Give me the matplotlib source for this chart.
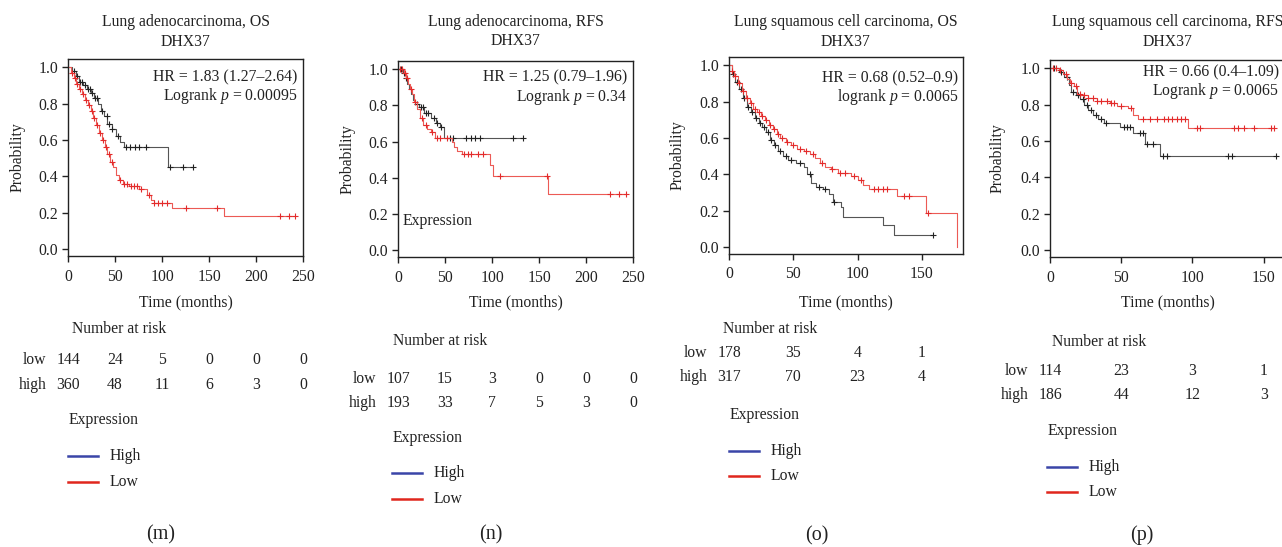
import numpy as np
import matplotlib
matplotlib.use("Agg")
import matplotlib.pyplot as plt
import matplotlib.transforms as mtransforms

plt.rcParams['font.family'] = ['Liberation Serif', 'DejaVu Serif']
plt.rcParams['mathtext.fontset'] = 'custom'
plt.rcParams['mathtext.rm'] = 'Liberation Serif'
plt.rcParams['mathtext.it'] = 'Liberation Serif:italic'

# ---- data ----
titles = ["Lung adenocarcinoma, OS", "Lung adenocarcinoma, RFS",
          "Lung squamous cell carcinoma, OS", "Lung squamous cell carcinoma, RFS"]
gene = "DHX37"
hr_text = ["HR = 1.83 (1.27–2.64)", "HR = 1.25 (0.79–1.96)",
           "HR = 0.68 (0.52–0.9)", "HR = 0.66 (0.4–1.09)"]
p_text = ["Logrank $p$ = 0.00095", "Logrank $p$ = 0.34",
          "logrank $p$ = 0.0065", "Logrank $p$ = 0.0065"]
panel_labels = ["(m)", "(n)", "(o)", "(p)"]

risk_times = [[0, 50, 100, 150, 200, 250], [0, 50, 100, 150, 200, 250],
              [0, 50, 100, 150], [0, 50, 100, 150]]
risk_low = [[144, 24, 5, 0, 0, 0], [107, 15, 3, 0, 0, 0], [178, 35, 4, 1], [114, 23, 3, 1]]
risk_high = [[360, 48, 11, 6, 3, 0], [193, 33, 7, 5, 3, 0], [317, 70, 23, 4], [186, 44, 12, 3]]

xlims = [250, 250, 182, 165]
xticks = [[0, 50, 100, 150, 200, 250], [0, 50, 100, 150, 200, 250],
          [0, 50, 100, 150], [0, 50, 100, 150]]

# panel m
m_low_t = [0, 4, 8, 12, 16, 20, 24, 28, 32, 35, 38, 42, 47, 51, 55, 60, 106, 133]
m_low_s = [1.0, 0.98, 0.95, 0.92, 0.90, 0.88, 0.86, 0.83, 0.80, 0.76, 0.73, 0.69, 0.66, 0.62, 0.59, 0.56, 0.45, 0.45]
m_low_c = [6, 10, 13, 15, 18, 21, 23, 26, 29, 31, 36, 41, 44, 47, 53, 62, 66, 71, 76, 83, 109, 122, 133]
m_high_t = [0, 3, 6, 9, 12, 15, 18, 21, 24, 27, 30, 33, 36, 39, 42, 45, 48, 51, 54, 58, 65, 75, 84, 88, 91, 111, 166, 242]
m_high_s = [1.0, 0.97, 0.94, 0.91, 0.88, 0.85, 0.82, 0.79, 0.76, 0.72, 0.68, 0.64, 0.60, 0.56, 0.52, 0.48, 0.45, 0.41,
            0.38, 0.36, 0.345, 0.33, 0.30, 0.27, 0.255, 0.225, 0.18, 0.18]
m_high_c = [4, 7, 10, 13, 16, 19, 22, 25, 28, 31, 34, 37, 40, 44, 47, 55, 60, 63, 67, 70, 73, 78, 86, 92, 96, 100,
            105, 125, 159, 225, 235, 242]

# panel n
n_low_t = [0, 5, 8, 10, 12, 14, 16, 18, 22, 28, 35, 40, 45, 49, 133]
n_low_s = [1.0, 0.98, 0.95, 0.92, 0.89, 0.86, 0.83, 0.81, 0.79, 0.76, 0.73, 0.70, 0.68, 0.62, 0.62]
n_low_c = [3, 6, 9, 20, 24, 27, 30, 32, 38, 42, 46, 55, 58, 72, 78, 82, 87, 122, 133]
n_high_t = [0, 6, 9, 11, 13, 15, 17, 20, 23, 27, 31, 35, 39, 57, 60, 63, 68, 98, 101, 160, 243]
n_high_s = [1.0, 0.98, 0.95, 0.92, 0.89, 0.86, 0.82, 0.78, 0.73, 0.69, 0.67, 0.65, 0.62, 0.60, 0.57, 0.55, 0.53,
            0.47, 0.41, 0.31, 0.31]
n_high_c = [2, 4, 7, 10, 14, 18, 25, 30, 36, 41, 45, 52, 70, 74, 78, 85, 90, 108, 158, 225, 235, 243]

# panel o
o_low_t = [0, 2, 5, 8, 11, 14, 17, 20, 23, 26, 29, 32, 35, 38, 42, 46, 52, 58, 61, 64, 68, 73, 78, 81, 87, 89,
           120, 128, 159]
o_low_s = [1.0, 0.95, 0.91, 0.87, 0.82, 0.77, 0.74, 0.71, 0.68, 0.66, 0.63, 0.59, 0.56, 0.53, 0.50, 0.48, 0.46,
           0.44, 0.40, 0.35, 0.33, 0.32, 0.29, 0.25, 0.22, 0.165, 0.12, 0.065, 0.065]
o_low_c = [3, 6, 9, 12, 15, 18, 21, 24, 27, 30, 33, 36, 40, 44, 48, 55, 63, 70, 75, 82, 159]
o_high_t = [0, 2, 4, 7, 10, 13, 16, 19, 22, 25, 28, 31, 34, 37, 40, 44, 48, 53, 58, 63, 67, 71, 75, 79, 85, 95,
            100, 104, 109, 131, 153, 177]
o_high_s = [1.0, 0.97, 0.94, 0.90, 0.86, 0.82, 0.79, 0.76, 0.74, 0.72, 0.70, 0.67, 0.65, 0.62, 0.60, 0.58, 0.56,
            0.54, 0.53, 0.51, 0.49, 0.46, 0.44, 0.43, 0.41, 0.39, 0.37, 0.34, 0.32, 0.28, 0.185, 0.0]
o_high_c = [2, 5, 8, 11, 14, 17, 20, 23, 26, 29, 32, 35, 38, 41, 45, 50, 55, 60, 65, 72, 80, 86, 90, 97, 103, 113,
            116, 120, 123, 136, 140, 155]

# panel p
p_low_t = [0, 6, 10, 13, 15, 18, 21, 24, 27, 30, 34, 38, 49, 58, 67, 77, 159]
p_low_s = [1.0, 0.98, 0.95, 0.91, 0.87, 0.85, 0.83, 0.80, 0.77, 0.745, 0.72, 0.70, 0.675, 0.645, 0.585, 0.515, 0.515]
p_low_c = [3, 8, 12, 16, 20, 23, 26, 29, 32, 36, 39, 52, 54, 56, 63, 65, 68, 72, 79, 82, 125, 128, 159]
p_high_t = [0, 6, 9, 12, 14, 17, 19, 22, 27, 33, 42, 47, 55, 58, 62, 97, 157]
p_high_s = [1.0, 0.99, 0.97, 0.94, 0.92, 0.90, 0.86, 0.85, 0.835, 0.82, 0.81, 0.79, 0.78, 0.745, 0.72, 0.67, 0.67]
p_high_c = [2, 4, 7, 11, 15, 18, 21, 24, 27, 30, 33, 36, 40, 43, 45, 50, 57, 65, 70, 75, 80, 83, 86, 89, 92, 95,
            103, 105, 129, 132, 136, 143, 155, 157]

curves = [(m_low_t, m_low_s, m_low_c, m_high_t, m_high_s, m_high_c),
          (n_low_t, n_low_s, n_low_c, n_high_t, n_high_s, n_high_c),
          (o_low_t, o_low_s, o_low_c, o_high_t, o_high_s, o_high_c),
          (p_low_t, p_low_s, p_low_c, p_high_t, p_high_s, p_high_c)]

# ---- layout (pixels) ----
W, H = 1282, 547
boxes = [(68, 59, 303, 256), (398, 61, 633, 257), (729, 57, 963, 254), (1050, 60, 1285, 257)]
title_y = [(22, 42), (22, 41), (22, 42), (22, 42)]
hr_pos = [(297, 77, 96), (627, 77, 97), (958, 78, 97), (1279, 72, 91)]
ylab_x = [18, 348, 678, 998]
risk_head = [(72, 329), (393, 341), (723, 329), (1052, 342)]
risk_rows = [(360, 385), (379, 403), (353, 377), (371, 395)]
expr_pos = [(69, 420), (393, 438), (730, 415), (1048, 431)]
leg_rows = [(456, 482), (473, 499), (451, 476), (467, 492)]
letter_pos = [(161, 535), (491, 535), (817, 536), (1142, 535)]

FS = 11.3
RED = '#e32b2b'

fig = plt.figure(figsize=(W / 100, H / 100), dpi=100)


def fx(x):
    return x / W


def fy(y):
    return 1 - y / H


def surv_at(ts, ss, c):
    idx = np.searchsorted(ts, c, side='right') - 1
    return np.asarray(ss)[idx]


for i in range(4):
    x0, y0, x1, y1 = boxes[i]
    ax = fig.add_axes([fx(x0), fy(y1), (x1 - x0) / W, (y1 - y0) / H])
    lt, ls, lc, ht, hs, hc = curves[i]
    ax.step(lt, ls, where='post', color='#555555', lw=0.8)
    ax.plot(lc, surv_at(lt, ls, lc), '+', color='#222222', ms=4.5, mew=0.8)
    ax.step(ht, hs, where='post', color='#ec5a55', lw=0.8)
    ax.plot(hc, surv_at(ht, hs, hc), '+', color=RED, ms=4.5, mew=0.8)

    ax.set_xlim(0, xlims[i])
    ax.set_ylim(-0.038, 1.045)
    ax.set_xticks(xticks[i])
    ax.set_yticks([0, 0.2, 0.4, 0.6, 0.8, 1.0])
    ax.set_yticklabels(['0.0', '0.2', '0.4', '0.6', '0.8', '1.0'])
    ax.tick_params(labelsize=FS, length=4, width=1, color='#222222', labelcolor='#222222', pad=3)
    ax.tick_params(axis='x', pad=5)
    for sp in ax.spines.values():
        sp.set_linewidth(1)
        sp.set_color('#222222')

    cx = (x0 + x1) / 2
    fig.text(fx(cx), fy(title_y[i][0]), titles[i], ha='center', va='center', fontsize=FS, color='#222222')
    fig.text(fx(cx), fy(title_y[i][1]), gene, ha='center', va='center', fontsize=FS, color='#222222')
    hx, hy1, hy2 = hr_pos[i]
    fig.text(fx(hx), fy(hy1), hr_text[i], ha='right', va='center', fontsize=FS, color='#222222')
    fig.text(fx(hx), fy(hy2), p_text[i], ha='right', va='center', fontsize=FS, color='#222222')
    fig.text(fx(ylab_x[i]), fy((y0 + y1) / 2), "Probability", rotation=90, ha='center', va='center',
             fontsize=FS, color='#222222')
    fig.text(fx(cx), fy(302), "Time (months)", ha='center', va='center', fontsize=FS, color='#222222')

    # number at risk table
    fig.text(fx(risk_head[i][0]), fy(risk_head[i][1]), "Number at risk", ha='left', va='center',
             fontsize=FS, color='#222222')
    trans = mtransforms.blended_transform_factory(ax.transData, fig.transFigure)
    ry_low, ry_high = risk_rows[i]
    fig.text(fx(x0 - 22), fy(ry_low), "low", ha='right', va='center', fontsize=FS, color='#222222')
    fig.text(fx(x0 - 21), fy(ry_high), "high", ha='right', va='center', fontsize=FS, color='#222222')
    for t, a, b in zip(risk_times[i], risk_low[i], risk_high[i]):
        ax.text(t, fy(ry_low), str(a), transform=trans, ha='center', va='center', fontsize=FS,
                color='#222222', clip_on=False)
        ax.text(t, fy(ry_high), str(b), transform=trans, ha='center', va='center', fontsize=FS,
                color='#222222', clip_on=False)

    # legend
    ex, ey = expr_pos[i]
    fig.text(fx(ex), fy(ey), "Expression", ha='left', va='center', fontsize=FS, color='#222222')
    lx = ex - 1
    for yy, col, lab in zip(leg_rows[i], ['#3a45a8', '#e0261d'], ["High", "Low"]):
        fig.add_artist(plt.Line2D([fx(lx), fx(lx + 30)], [fy(yy), fy(yy)], color=col, lw=1.8,
                                  transform=fig.transFigure))
        fig.text(fx(lx + 42), fy(yy), lab, ha='left', va='center', fontsize=FS, color='#222222')

    fig.text(fx(letter_pos[i][0]), fy(letter_pos[i][1]), panel_labels[i], ha='center', va='center',
             fontsize=14.5, color='#222222')

# stray label inside panel n
fig.text(fx(403), fy(221), "Expression", ha='left', va='center', fontsize=FS, color='#222222')

fig.savefig("out.png", dpi=100)
